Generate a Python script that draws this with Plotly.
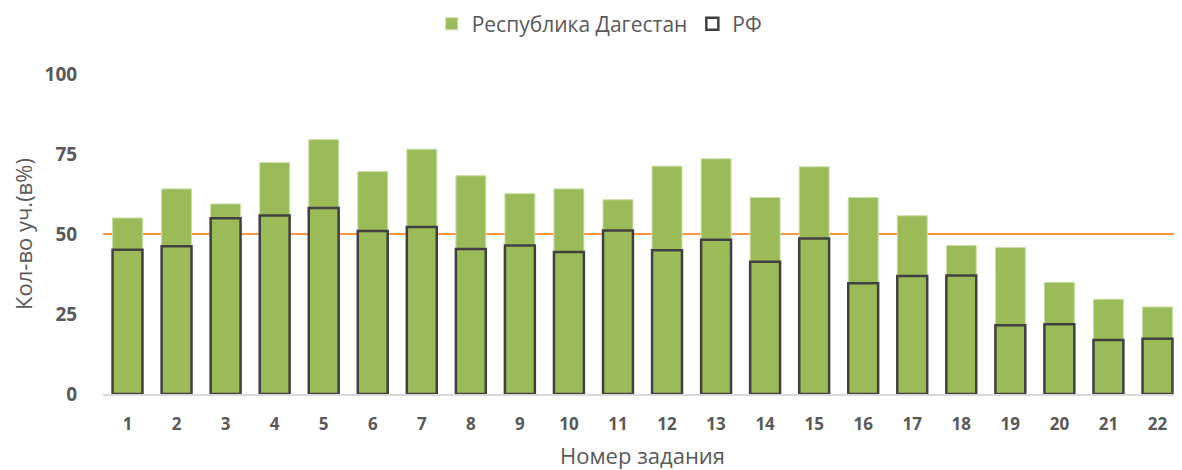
import plotly.graph_objects as go

# номер задания
tasks = [str(i) for i in range(1, 23)]

# процент выполнения, Республика Дагестан
dagestan = [55.0, 64.1, 59.4, 72.3, 79.5, 69.5, 76.5, 68.2, 62.6, 64.1, 60.7,
            71.2, 73.5, 61.4, 71.0, 61.4, 55.7, 46.4, 45.8, 34.9, 29.6, 27.2]

# процент выполнения, РФ
rf = [45.1, 46.2, 54.9, 55.8, 58.1, 50.9, 52.2, 45.3, 46.4, 44.4, 51.1,
      44.9, 48.2, 41.3, 48.6, 34.6, 36.9, 37.0, 21.5, 21.8, 16.9, 17.3]

threshold = 50
y_ticks = [0, 25, 50, 75, 100]

FONT = "Open Sans"
GREY = "#595959"

fig = go.Figure()
fig.add_trace(go.Bar(
    x=tasks, y=dagestan, name="Республика Дагестан",
    marker=dict(color="#9BBB59", line=dict(color="#C9DDA6", width=1)),
))
fig.add_trace(go.Bar(
    x=tasks, y=rf, name="РФ",
    marker=dict(color="rgba(0,0,0,0)", line=dict(color="#404040", width=2.5)),
))

# линия 50%
fig.add_shape(type="line", xref="paper", yref="y", x0=0, x1=1,
              y0=threshold, y1=threshold, layer="below",
              line=dict(color="#F79646", width=2))

# страница имеет отступ 8px, поэтому фигура чуть меньше окна
fig.update_layout(
    width=1174, height=462,
    barmode="overlay", bargap=0.39,
    plot_bgcolor="white", paper_bgcolor="white",
    margin=dict(l=95, r=0, t=66, b=76),
    font=dict(family=FONT, color=GREY),
    legend=dict(orientation="h", x=0.504, xanchor="center", xref="container",
                y=0.965, yanchor="middle", yref="container",
                font=dict(size=21, color=GREY),
                itemwidth=30, traceorder="normal"),
    showlegend=True,
)
fig.update_xaxes(
    type="category", showgrid=False, showline=True, linecolor="#D9D9D9", linewidth=2,
    automargin=False,
    ticks="outside", ticklen=14, tickcolor="rgba(0,0,0,0)",
    tickfont=dict(size=17, family=FONT, color=GREY, weight="bold"),
    title=dict(text="Номер задания", font=dict(size=22, color=GREY), standoff=19),
)
fig.update_yaxes(
    range=[0, 100], tickvals=y_ticks, showgrid=False, zeroline=False, showline=False,
    automargin=False,
    ticks="outside", ticklen=21, tickcolor="rgba(0,0,0,0)",
    tickfont=dict(size=19, family=FONT, color=GREY, weight="bold"),
    title=dict(text="Кол-во уч.(в%)", font=dict(size=22, color=GREY), standoff=21),
)

fig.write_html("out.html")
